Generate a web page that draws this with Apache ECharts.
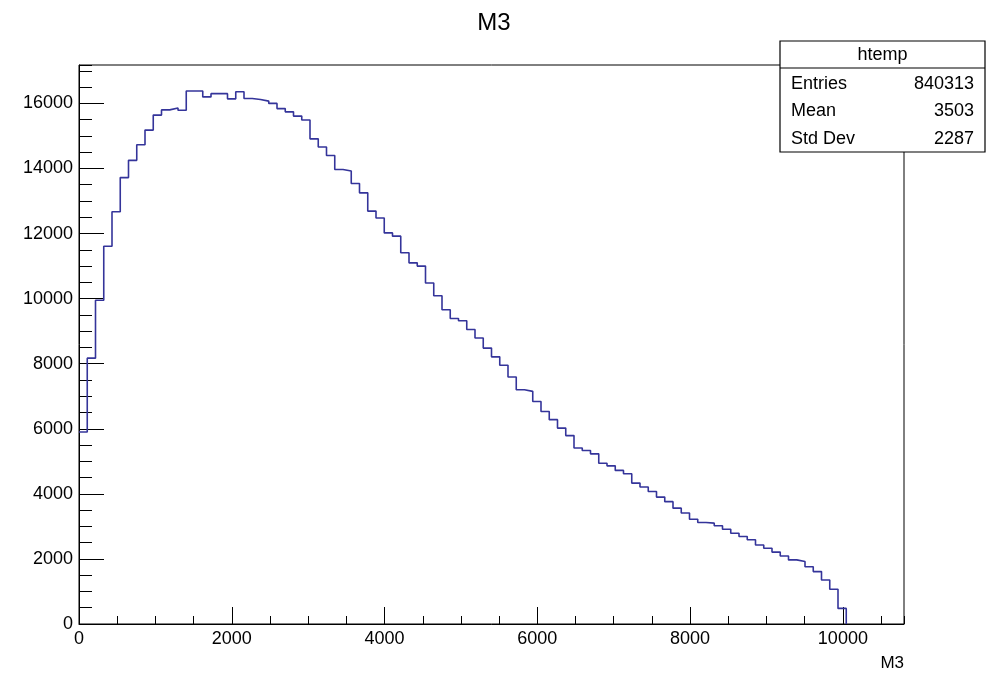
<!DOCTYPE html>
<html><head><meta charset="utf-8">
<script src="https://cdn.jsdelivr.net/npm/echarts@6/dist/echarts.min.js"></script>
<style>html,body{margin:0;padding:0;background:#fff}#c{width:988px;height:675px}</style>
</head><body><div id="c"></div>
<script>
// ---- data ----
const binWidth = 108;           // width of one histogram bin (M3 units)
const counts = [
  5900, 8170, 9950, 11610, 12670, 13720, 14250, 14730, 15180, 15640,
  15800, 15860, 15790, 16380, 16380, 16200, 16300, 16300, 16140, 16360,
  16150, 16120, 16070, 16000, 15840, 15740, 15610, 15490, 14910, 14660,
  14400, 13970, 13920, 13540, 13250, 12690, 12480, 12020, 11920, 11410,
  11100, 11000, 10480, 10090, 9660, 9390, 9320, 9050, 8790, 8480,
  8210, 7950, 7590, 7200, 7150, 6840, 6530, 6280, 6020, 5790,
  5410, 5330, 5230, 4940, 4860, 4720, 4620, 4330, 4210, 4070,
  3900, 3760, 3560, 3410, 3220, 3120, 3100, 3020, 2910, 2790,
  2690, 2590, 2430, 2330, 2210, 2090, 1970, 1920, 1760, 1610,
  1350, 1070, 480
];
const xRange = [0, 10800];
const yRange = [0, 17180];
const statsLabels = ["Entries", "Mean", "Std Dev"];
const statsValues = ["840313", "3503", "2287"];
const histName = "htemp";
const titleText = "M3";
const xTitle = "M3";

// ---- build step outline ----
const pts = [];
counts.forEach((c, i) => pts.push([i * binWidth, c]));
pts.push([counts.length * binWidth, 0]);

const FONT = "Liberation Sans";
const gridL = 79, gridR = 904, gridT = 65, gridB = 624;
const plain = v => String(v);

const chart = echarts.init(document.getElementById('c'), null, {renderer: 'canvas'});
const majorX = {
  type: 'value', min: xRange[0], max: xRange[1], interval: 2000, position: 'bottom',
  axisLine: {show: true, lineStyle: {color: '#000', width: 1}},
  axisTick: {show: true, inside: true, length: 17, lineStyle: {color: '#000', width: 1}},
  axisLabel: {show: true, color: '#000', fontFamily: FONT, fontSize: 18, margin: 6, showMaxLabel: false, formatter: plain},
  splitLine: {show: false}
};
const minorX = {
  type: 'value', min: xRange[0], max: xRange[1], interval: 500, position: 'bottom',
  axisLine: {show: false},
  axisTick: {show: true, inside: true, length: 8, lineStyle: {color: '#000', width: 1}},
  axisLabel: {show: false}, splitLine: {show: false}
};
const majorY = {
  type: 'value', min: yRange[0], max: yRange[1], interval: 2000, position: 'left',
  axisLine: {show: true, lineStyle: {color: '#000', width: 1}},
  axisTick: {show: true, inside: true, length: 25, lineStyle: {color: '#000', width: 1}},
  axisLabel: {show: true, color: '#000', fontFamily: FONT, fontSize: 18, margin: 6, showMaxLabel: false, formatter: plain},
  splitLine: {show: false}
};
const minorY = {
  type: 'value', min: yRange[0], max: yRange[1], interval: 500, position: 'left',
  axisLine: {show: false},
  axisTick: {show: true, inside: true, length: 13, lineStyle: {color: '#000', width: 1}},
  axisLabel: {show: false}, splitLine: {show: false}
};

const boxX = 780, boxY = 41, boxW = 205, boxH = 111, headH = 27;
const graphics = [
  {type: 'rect', z: 100, shape: {x: boxX, y: boxY, width: boxW, height: boxH},
   style: {fill: '#fff', stroke: '#000', lineWidth: 1.2}},
  {type: 'line', z: 101, shape: {x1: boxX, y1: boxY + headH, x2: boxX + boxW, y2: boxY + headH},
   style: {stroke: '#000', lineWidth: 1.2}},
  {type: 'text', z: 102, x: boxX + boxW / 2, y: boxY + headH / 2 + 1,
   style: {text: histName, fontFamily: FONT, fontSize: 18, fill: '#000', align: 'center', verticalAlign: 'middle'}},
  {type: 'text', z: 102, x: gridR, y: 663,
   style: {text: xTitle, fontFamily: FONT, fontSize: 17, fill: '#000', align: 'right', verticalAlign: 'middle'}}
];
statsLabels.forEach((lab, i) => {
  const yy = boxY + headH + 16 + i * 27.5;
  graphics.push({type: 'text', z: 102, x: boxX + 11, y: yy,
    style: {text: lab, fontFamily: FONT, fontSize: 18, fill: '#000', align: 'left', verticalAlign: 'middle'}});
  graphics.push({type: 'text', z: 102, x: boxX + boxW - 11, y: yy,
    style: {text: statsValues[i], fontFamily: FONT, fontSize: 18, fill: '#000', align: 'right', verticalAlign: 'middle'}});
});

chart.setOption({
  animation: false,
  backgroundColor: '#fff',
  title: {text: titleText, left: 'center', top: 6,
    textStyle: {fontFamily: FONT, fontSize: 24, fontWeight: 'normal', color: '#000'}},
  grid: {left: gridL, top: gridT, width: gridR - gridL, height: gridB - gridT,
    show: true, borderColor: '#000', borderWidth: 1, backgroundColor: 'transparent'},
  xAxis: [majorX, minorX],
  yAxis: [majorY, minorY],
  series: [{
    type: 'line', step: 'end', data: pts, xAxisIndex: 0, yAxisIndex: 0,
    symbol: 'none', lineStyle: {color: '#34349a', width: 1.6}, z: 5
  }],
  graphic: graphics
});
</script></body></html>
